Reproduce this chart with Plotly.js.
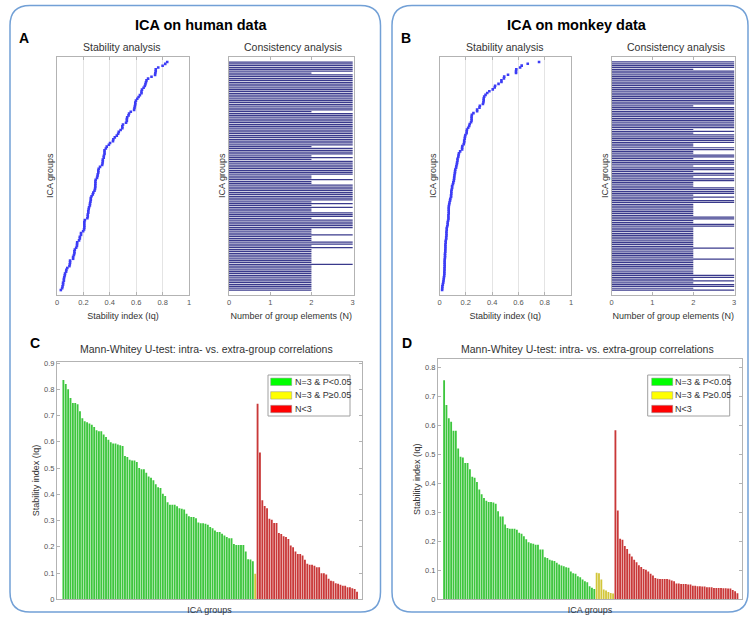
<!DOCTYPE html>
<html><head><meta charset="utf-8">
<script src="https://cdn.plot.ly/plotly-3.0.1.min.js"></script>
<style>html,body{margin:0;padding:0;background:#fff}#chart{width:750px;height:623px}</style>
</head><body><div id="chart"></div>
<script>
// ---- Data ----
// Panel C (human): stability index Iq per ICA group, in plotted order
const humanGreen = [0.835,0.82,0.80,0.767,0.748,0.748,0.743,0.716,0.69,0.678,
  0.674,0.67,0.665,0.656,0.644,0.64,0.64,0.628,0.618,0.608,
  0.598,0.593,0.593,0.59,0.587,0.584,0.546,0.542,0.532,0.529,
  0.529,0.523,0.50,0.495,0.495,0.482,0.468,0.463,0.453,0.438,
  0.427,0.424,0.402,0.393,0.370,0.36,0.36,0.36,0.354,0.347,
  0.345,0.342,0.326,0.316,0.313,0.313,0.309,0.293,0.29,0.29,
  0.288,0.284,0.275,0.271,0.262,0.256,0.256,0.25,0.243,0.237,
  0.233,0.233,0.211,0.207,0.207,0.207,0.207,0.182,0.153,0.152,0.145];
const humanYellow = [0.097];
const humanRed = [0.745,0.559,0.377,0.355,0.347,0.307,0.303,0.291,0.291,0.253,
  0.249,0.24,0.237,0.23,0.205,0.198,0.182,0.173,0.173,0.167,
  0.151,0.135,0.132,0.132,0.128,0.122,0.122,0.099,0.099,0.094,
  0.078,0.071,0.069,0.061,0.059,0.055,0.052,0.052,0.046,0.046,
  0.042,0.039,0.029];
// Panel D (monkey)
const monkeyGreen = [0.757,0.671,0.625,0.613,0.582,0.582,0.521,0.492,0.49,0.471,
  0.471,0.449,0.423,0.42,0.405,0.379,0.363,0.35,0.34,0.336,
  0.336,0.334,0.33,0.304,0.286,0.286,0.258,0.246,0.244,0.244,
  0.244,0.24,0.23,0.226,0.218,0.207,0.197,0.194,0.192,0.188,
  0.188,0.172,0.172,0.145,0.143,0.137,0.134,0.132,0.126,0.12,
  0.117,0.114,0.111,0.109,0.096,0.09,0.088,0.08,0.076,0.068,
  0.062,0.059,0.045,0.04,0.036];
const monkeyYellow = [0.092,0.09,0.068,0.034,0.03,0.025,0.022,0.02];
const monkeyRed = [0.584,0.307,0.209,0.206,0.184,0.174,0.157,0.148,0.137,0.128,
  0.118,0.112,0.105,0.102,0.096,0.088,0.082,0.074,0.071,0.07,
  0.07,0.07,0.07,0.068,0.065,0.062,0.055,0.055,0.053,0.053,
  0.053,0.051,0.051,0.047,0.047,0.045,0.045,0.044,0.044,0.042,
  0.042,0.042,0.039,0.039,0.039,0.039,0.038,0.038,0.037,0.037,
  0.032,0.028,0.021];
// Number of group elements per category
const nGreen = 3, nYellow = 3, nRed = 2;
const legendLabels = ['N=3 & P<0.05', 'N=3 & P\u22650.05', 'N<3'];
const stabTicks = [0,0.2,0.4,0.6,0.8,1];
const consTicks = [0,1,2,3];

// ---- helpers ----
const W = 750, H = 623;
const X = p => p / W, Y = p => 1 - p / H;
const FONT = '"Liberation Sans", Arial, Helvetica, sans-serif';
const TXT = '#333333';
const FRAME = '#b3b3b3';
const GREEN = '#3dc63d', YELLOW = '#d2c63a', RED = '#c93838';

function sortByIq(g, y, r) {
  const all = [];
  g.forEach(v => all.push({iq: v, n: nGreen}));
  y.forEach(v => all.push({iq: v, n: nYellow}));
  r.forEach(v => all.push({iq: v, n: nRed}));
  all.sort((a, b) => a.iq - b.iq);
  return all;
}
const hs = sortByIq(humanGreen, humanYellow, humanRed);
const ms = sortByIq(monkeyGreen, monkeyYellow, monkeyRed);
const idx = arr => arr.map((_, i) => i);

const traces = [];
function stabCons(sorted, xa, ya, xb, yb) {
  traces.push({type: 'scatter', mode: 'markers', x: sorted.map(d => d.iq), y: idx(sorted),
    xaxis: xa, yaxis: ya, marker: {symbol: 'square', size: 2.6, color: '#3c3cf5', line: {width: 0}},
    showlegend: false, hoverinfo: 'x'});
  traces.push({type: 'bar', orientation: 'h', x: sorted.map(d => d.n), y: idx(sorted),
    xaxis: xb, yaxis: yb, width: 0.68, marker: {color: '#3a3a8c', line: {width: 0}},
    showlegend: false, hoverinfo: 'x'});
}
stabCons(hs, 'x', 'y', 'x2', 'y2');
stabCons(ms, 'x3', 'y3', 'x4', 'y4');

function barsPanel(g, y, r, xa, ya) {
  let off = 0;
  [[g, GREEN, legendLabels[0]], [y, YELLOW, legendLabels[1]], [r, RED, legendLabels[2]]].forEach(([vals, col, name]) => {
    const o = off;
    traces.push({type: 'bar', name: name, x: vals.map((_, i) => o + i), y: vals,
      xaxis: xa, yaxis: ya, width: 0.78, marker: {color: col, line: {width: 0}}, showlegend: false});
    off += vals.length;
  });
  return off;
}
const nH = barsPanel(humanGreen, humanYellow, humanRed, 'x5', 'y5');
const nM = barsPanel(monkeyGreen, monkeyYellow, monkeyRed, 'x6', 'y6');

const frame = {showline: true, mirror: 'ticks', linecolor: FRAME, linewidth: 1, zeroline: false,
  tickfont: {size: 7.5, color: '#555'}, ticks: 'inside', ticklen: 3, tickcolor: FRAME, fixedrange: true};
const tfont = {size: 9, color: TXT};

function stabX(d0, d1, anchor) {
  return Object.assign({}, frame, {domain: [X(d0), X(d1)], range: [0, 1], tickvals: stabTicks,
    showgrid: true, gridcolor: '#e4e4e4', gridwidth: 1, anchor: anchor,
    title: {text: 'Stability index (Iq)', font: tfont, standoff: 6}});
}
function consX(d0, d1, anchor) {
  return Object.assign({}, frame, {domain: [X(d0), X(d1)], range: [0, 3.02], tickvals: consTicks,
    showgrid: false, anchor: anchor,
    title: {text: 'Number of group elements (N)', font: tfont, standoff: 6}});
}
function groupsY(n, anchor) {
  return Object.assign({}, frame, {domain: [Y(295), Y(56.7)], range: [-2.7, n + 1.9],
    showticklabels: false, ticks: '', showgrid: false, anchor: anchor,
    title: {text: 'ICA groups', font: tfont, standoff: 0}});
}

const layout = {
  width: W, height: H, margin: {l: 0, r: 0, t: 0, b: 0},
  paper_bgcolor: '#fff', plot_bgcolor: '#fff',
  font: {family: FONT, color: TXT}, showlegend: false, barmode: 'overlay',
  xaxis: stabX(57, 189, 'y'), yaxis: groupsY(hs.length, 'x'),
  xaxis2: consX(229, 353.5, 'y2'), yaxis2: groupsY(hs.length, 'x2'),
  xaxis3: stabX(439.5, 571, 'y3'), yaxis3: groupsY(ms.length, 'x3'),
  xaxis4: consX(611.5, 735, 'y4'), yaxis4: groupsY(ms.length, 'x4'),
  xaxis5: Object.assign({}, frame, {domain: [X(57), X(362)], range: [-2.7, nH + 1.1], showticklabels: false,
    ticks: '', showgrid: false, anchor: 'y5', title: {text: 'ICA groups', font: tfont, standoff: 7}}),
  yaxis5: Object.assign({}, frame, {domain: [Y(599.3), Y(361.7)], range: [0, 0.905], dtick: 0.1, tick0: 0,
    showgrid: false, anchor: 'x5', title: {text: 'Stability index (Iq)', font: tfont, standoff: 2}}),
  xaxis6: Object.assign({}, frame, {domain: [X(438), X(742)], range: [-2.6, nM + 0.94], showticklabels: false,
    ticks: '', showgrid: false, anchor: 'y6', title: {text: 'ICA groups', font: tfont, standoff: 7}}),
  yaxis6: Object.assign({}, frame, {domain: [Y(599.3), Y(359.3)], range: [0, 0.829], dtick: 0.1, tick0: 0,
    showgrid: false, anchor: 'x6', title: {text: 'Stability index (Iq)', font: tfont, standoff: 2}}),
  shapes: [], annotations: []
};

function rr(x0, y0, x1, y1, r) {
  const a = p => X(p).toFixed(5), b = p => Y(p).toFixed(5);
  return `M${a(x0 + r)},${b(y0)} L${a(x1 - r)},${b(y0)} Q${a(x1)},${b(y0)} ${a(x1)},${b(y0 + r)} ` +
    `L${a(x1)},${b(y1 - r)} Q${a(x1)},${b(y1)} ${a(x1 - r)},${b(y1)} L${a(x0 + r)},${b(y1)} ` +
    `Q${a(x0)},${b(y1)} ${a(x0)},${b(y1 - r)} L${a(x0)},${b(y0 + r)} Q${a(x0)},${b(y0)} ${a(x0 + r)},${b(y0)} Z`;
}
[[10, 5.5, 380.5, 612], [392, 5.5, 748, 612]].forEach(([x0, y0, x1, y1]) => {
  layout.shapes.push({type: 'path', xref: 'paper', yref: 'paper', path: rr(x0, y0, x1, y1, 20),
    line: {color: '#72a0d6', width: 1.5}, fillcolor: 'rgba(0,0,0,0)', layer: 'below'});
});

function ann(text, x, y, size, opts) {
  layout.annotations.push(Object.assign({text: text, x: X(x), y: Y(y), xref: 'paper', yref: 'paper',
    showarrow: false, xanchor: 'center', yanchor: 'middle', font: {size: size, color: TXT, family: FONT}}, opts || {}));
}
ann('<b>ICA on human data</b>', 201.7, 25, 14.5, {font: {size: 14.5, color: '#000', family: FONT}});
ann('<b>ICA on monkey data</b>', 576.7, 25, 14.5, {font: {size: 14.5, color: '#000', family: FONT}});
[['A', 24.5, 38], ['B', 406, 38], ['C', 34.5, 343.5], ['D', 407, 343.5]].forEach(([t, x, y]) =>
  ann('<b>' + t + '</b>', x, y, 14, {font: {size: 14, color: '#000', family: FONT}}));
ann('Stability analysis', 122, 47.3, 10.5);
ann('Consistency analysis', 293, 47.3, 10.5);
ann('Stability analysis', 504.7, 47.3, 10.5);
ann('Consistency analysis', 676, 47.3, 10.5);
ann('Mann-Whitey U-test: intra- vs. extra-group correlations', 206, 349.3, 10.5);
ann('Mann-Whitey U-test: intra- vs. extra-group correlations', 587.5, 349.3, 10.5);

// legends for C and D
const swCols = ['#00ff00', '#ffff00', '#ff0000'];
[[268, 270.7, 293.3], [647.7, 651.7, 673.3]].forEach(([bx, sx, tx]) => {
  layout.shapes.push({type: 'rect', xref: 'paper', yref: 'paper', x0: X(bx), x1: X(bx + 82), y0: Y(416), y1: Y(375),
    line: {color: '#a0a0a0', width: 1}, fillcolor: '#fff', layer: 'above'});
  legendLabels.forEach((lab, i) => {
    const cy = 381.8 + i * 13.6;
    layout.shapes.push({type: 'rect', xref: 'paper', yref: 'paper', x0: X(sx), x1: X(sx + 21), y0: Y(cy + 3.7), y1: Y(cy - 3.7),
      line: {color: '#909090', width: 0.5}, fillcolor: swCols[i], layer: 'above'});
    ann(lab, tx, cy, 9, {xanchor: 'left'});
  });
});

Plotly.newPlot('chart', traces, layout, {displayModeBar: false, staticPlot: true});
</script></body></html>
